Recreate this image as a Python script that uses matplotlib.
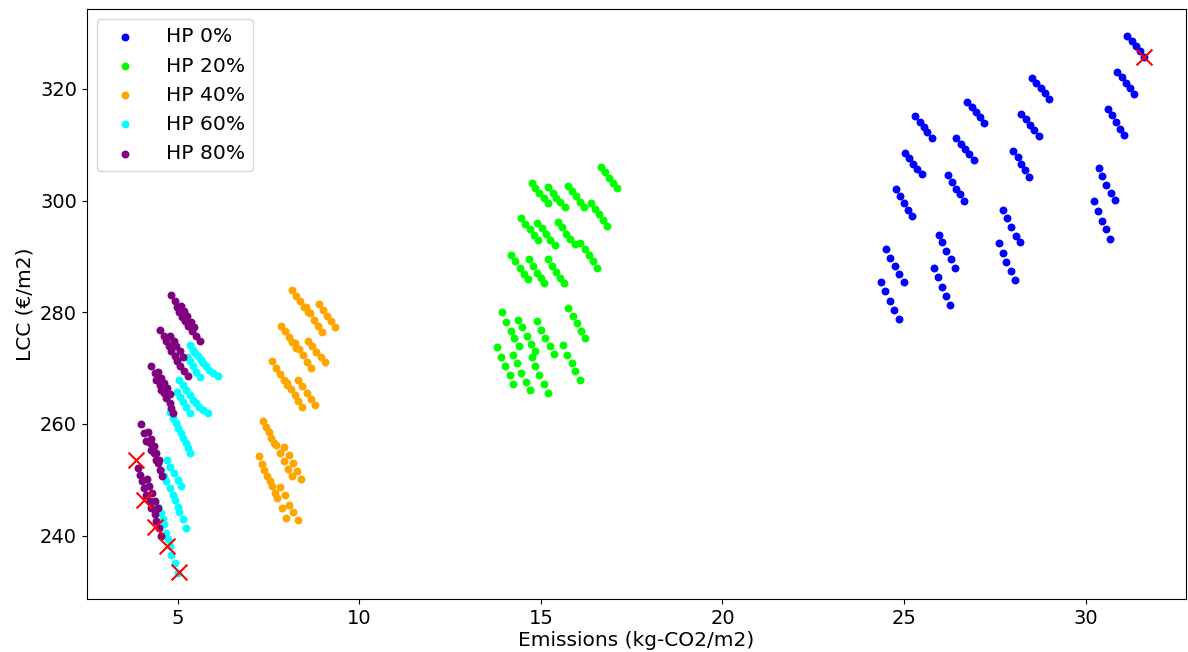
import matplotlib
matplotlib.use("Agg")
import matplotlib.pyplot as plt

# Emissions (kg-CO2/m2) and life-cycle cost (EUR/m2) per heat-pump share
hp0_emis = [
    25.30, 25.43, 25.54, 25.64, 25.77,
    25.03, 25.14, 25.25, 25.36, 25.48,
    24.77, 24.88, 24.99, 25.12, 25.22,
    24.51, 24.61, 24.75, 24.85, 24.99,
    24.37, 24.48, 24.61, 24.72, 24.85,
    26.73, 26.87, 26.98, 27.08, 27.21,
    26.44, 26.58, 26.69, 26.80, 26.92,
    26.20, 26.32, 26.42, 26.53, 26.66,
    25.95, 26.05, 26.16, 26.29, 26.39,
    25.82, 25.93, 26.03, 26.15, 26.27,
    28.52, 28.64, 28.76, 28.87, 28.98,
    28.22, 28.36, 28.47, 28.58, 28.71,
    28.01, 28.13, 28.22, 28.33, 28.44,
    27.73, 27.84, 27.94, 28.07, 28.18,
    27.60, 27.71, 27.81, 27.94, 28.05,
    31.14, 31.28, 31.38, 31.49, 31.61,
    30.85, 30.99, 31.10, 31.21, 31.33,
    30.62, 30.73, 30.83, 30.94, 31.06,
    30.36, 30.46, 30.56, 30.70, 30.80,
    30.23, 30.33, 30.44, 30.56, 30.68,
]
hp0_lcc = [
    315.2, 314.1, 313.2, 312.3, 311.2,
    308.5, 307.6, 306.6, 305.6, 304.8,
    302.0, 300.8, 299.5, 298.3, 297.3,
    291.3, 289.8, 288.2, 286.8, 285.5,
    285.5, 283.8, 282.1, 280.4, 278.8,
    317.7, 316.8, 315.8, 314.9, 313.9,
    311.2, 310.2, 309.2, 308.3, 307.3,
    304.5, 303.3, 302.1, 301.1, 299.9,
    293.9, 292.5, 291.0, 289.5, 288.0,
    288.0, 286.3, 284.6, 283.0, 281.3,
    322.0, 321.1, 320.2, 319.2, 318.2,
    315.5, 314.6, 313.6, 312.6, 311.5,
    308.9, 307.8, 306.6, 305.4, 304.2,
    298.3, 296.8, 295.2, 293.7, 292.5,
    292.4, 290.6, 289.0, 287.4, 285.7,
    329.5, 328.6, 327.7, 326.8, 325.8,
    323.1, 322.1, 321.1, 320.1, 319.1,
    316.4, 315.3, 314.0, 312.9, 311.8,
    305.9, 304.4, 302.8, 301.3, 300.1,
    299.9, 298.2, 296.4, 294.9, 293.2,
]

hp20_emis = [
    16.67, 16.77, 16.88, 17.00, 17.11,
    14.75, 14.85, 14.96, 15.08, 15.19,
    15.20, 15.33, 15.43, 15.54, 15.67,
    15.74, 15.85, 15.96, 16.09, 16.20,
    16.38, 16.49, 16.61, 16.72, 16.82,
    14.45, 14.57, 14.69, 14.81, 14.91,
    14.90, 15.02, 15.15, 15.26, 15.38,
    15.46, 15.57, 15.68, 15.80, 15.93,
    16.09, 16.22, 16.33, 16.44, 16.55,
    14.18, 14.30, 14.42, 14.54, 14.64,
    14.67, 14.78, 14.89, 15.00, 15.10,
    15.19, 15.30, 15.41, 15.52, 15.64,
    13.93, 14.04, 14.17, 14.27, 14.40,
    14.37, 14.48, 14.61, 14.72, 14.85,
    14.90, 15.00, 15.11, 15.24, 15.35,
    15.76, 15.88, 16.00, 16.11, 16.23,
    13.80, 13.90, 14.01, 14.14, 14.24,
    14.24, 14.35, 14.46, 14.58, 14.69,
    14.75, 14.84, 14.95, 15.08, 15.19,
    15.61, 15.71, 15.85, 15.95, 16.08,
]
hp20_lcc = [
    306.0, 305.1, 304.1, 303.2, 302.3,
    303.2, 302.3, 301.3, 300.4, 299.6,
    302.5, 301.4, 300.5, 299.7, 298.8,
    302.7, 301.7, 300.8, 299.7, 298.8,
    299.5, 298.5, 297.6, 296.6, 295.5,
    296.9, 295.8, 294.9, 293.9, 292.9,
    296.0, 295.1, 294.1, 293.0, 292.1,
    296.1, 295.2, 294.1, 293.2, 292.2,
    292.4, 291.3, 290.2, 289.1, 288.0,
    290.3, 289.1, 288.0, 286.9, 285.9,
    289.5, 288.2, 287.1, 286.1, 285.2,
    289.5, 288.3, 287.3, 286.2, 285.2,
    280.0, 278.3, 276.7, 275.4, 273.9,
    278.7, 277.3, 275.7, 274.4, 273.0,
    278.4, 276.9, 275.4, 274.0, 272.6,
    280.8, 279.3, 278.0, 276.6, 275.3,
    273.7, 272.0, 270.3, 268.8, 267.2,
    272.4, 270.9, 269.2, 267.5, 266.0,
    271.9, 270.4, 268.7, 267.2, 265.5,
    274.2, 272.4, 270.9, 269.4, 267.8,
]

hp40_emis = [
    8.16, 8.26, 8.37, 8.47, 8.58,
    8.53, 8.64, 8.75, 8.86, 8.97,
    8.90, 9.01, 9.12, 9.23, 9.34,
    7.86, 7.96, 8.07, 8.16, 8.27,
    8.24, 8.35, 8.46, 8.57, 8.68,
    8.60, 8.71, 8.82, 8.94, 9.05,
    7.61, 7.72, 7.83, 7.93, 8.02,
    8.02, 8.12, 8.22, 8.32, 8.42,
    8.32, 8.43, 8.55, 8.67, 8.79,
    7.35, 7.43, 7.51, 7.58, 7.65,
    7.72, 7.82, 7.92, 8.04, 8.16,
    7.92, 8.06, 8.17, 8.28, 8.41,
    7.24, 7.32, 7.39, 7.46, 7.54,
    7.60, 7.67, 7.74, 7.87, 7.98,
    7.83, 7.96, 8.08, 8.19, 8.31,
]
hp40_lcc = [
    284.0, 283.0, 282.0, 281.0, 280.0,
    281.0, 279.9, 278.7, 277.6, 276.5,
    281.4, 280.4, 279.4, 278.4, 277.4,
    277.5, 276.6, 275.6, 274.6, 273.6,
    274.5, 273.4, 272.3, 271.1, 270.0,
    274.9, 274.0, 272.9, 271.9, 271.0,
    271.2, 270.0, 268.9, 267.9, 267.0,
    267.3, 266.3, 265.2, 264.1, 263.0,
    267.9, 266.7, 265.6, 264.5, 263.4,
    260.5, 259.4, 258.5, 257.5, 256.6,
    256.2, 254.8, 253.4, 251.9, 250.6,
    255.8, 254.4, 253.0, 251.6, 250.2,
    254.2, 252.9, 251.7, 250.6, 249.7,
    248.8, 247.7, 246.7, 244.9, 243.1,
    248.7, 247.2, 245.5, 244.2, 242.7,
]

hp60_emis = [
    5.35, 5.42, 5.49, 5.56, 5.65, 5.69, 5.79, 5.86, 5.97, 6.11,
    5.25, 5.33, 5.42, 5.52, 5.62,
    5.05, 5.15, 5.24, 5.33, 5.42, 5.51, 5.60, 5.69, 5.83,
    4.98, 5.06, 5.15, 5.23, 5.33,
    4.78, 4.87, 4.96, 5.01, 5.10, 5.15, 5.24, 5.28, 5.33,
    4.55, 4.64, 4.69, 4.78, 4.87, 4.92, 5.01, 5.05, 5.15, 5.24,
    4.70, 4.80, 4.90, 5.00, 5.10,
    4.46, 4.55, 4.60, 4.64, 4.69, 4.73, 4.78, 4.83, 4.92, 5.01,
]
hp60_lcc = [
    274.2, 273.3, 272.7, 272.1, 271.5, 270.9, 270.3, 269.7, 269.1, 268.5,
    272.0, 271.2, 270.3, 269.3, 268.4,
    267.9, 267.0, 266.1, 265.2, 264.3, 263.7, 263.1, 262.5, 262.0,
    265.8, 264.9, 264.0, 263.0, 262.0,
    262.2, 261.1, 260.2, 259.3, 258.4, 257.5, 256.6, 255.7, 254.8,
    251.8, 250.6, 249.7, 248.5, 247.3, 246.4, 245.2, 244.3, 242.9, 241.4,
    253.5, 252.3, 251.2, 250.0, 248.9,
    245.2, 244.1, 242.9, 242.0, 240.5, 239.3, 238.1, 236.6, 235.1, 233.3,
]

hp80_emis = [
    4.83, 4.92, 4.98, 5.05, 5.13, 5.21, 5.30, 5.40, 5.51, 5.62,
    5.10, 5.19, 5.27, 5.36, 5.45,
    4.53, 4.62, 4.69, 4.76, 4.83, 4.92, 4.99, 5.08, 5.17, 5.28,
    4.80, 4.89, 4.97, 5.06, 5.14,
    4.26, 4.37, 4.42, 4.51, 4.55, 4.64, 4.69, 4.78, 4.83, 4.87,
    4.45, 4.54, 4.62, 4.70, 4.78,
    4.00, 4.09, 4.14, 4.25, 4.28, 4.35, 4.42, 4.46, 4.51, 4.58,
    4.20, 4.28, 4.35, 4.42, 4.50,
    3.91, 3.98, 4.03, 4.07, 4.14, 4.23, 4.28, 4.37, 4.42, 4.49, 4.55,
    4.15, 4.22, 4.30, 4.38, 4.45,
]
hp80_lcc = [
    283.1, 282.1, 281.0, 280.1, 279.2, 278.5, 277.5, 276.6, 275.7, 274.8,
    281.2, 280.2, 279.3, 278.3, 277.3,
    276.9, 275.8, 274.8, 273.9, 273.0, 272.1, 271.2, 270.3, 269.4, 268.5,
    275.8, 274.9, 274.0, 273.0, 272.0,
    270.4, 269.1, 267.9, 267.0, 266.1, 265.5, 264.6, 263.7, 262.9, 262.0,
    269.3, 268.3, 267.3, 266.4, 265.4,
    259.9, 258.3, 256.9, 256.6, 255.4, 254.8, 253.6, 253.0, 251.8, 250.6,
    258.5, 257.3, 256.0, 254.7, 253.5,
    252.1, 250.9, 249.7, 248.5, 247.3, 246.1, 245.0, 243.8, 242.6, 241.4, 239.9,
    250.2, 248.9, 247.6, 246.2, 244.9,
]

# Best-cost designs highlighted with crosses
opt_emis = [31.61, 3.87, 4.09, 4.39, 4.71, 5.03]
opt_lcc = [325.8, 253.6, 246.3, 241.6, 238.2, 233.5]

series = [
    ("HP 0%", hp0_emis, hp0_lcc, "blue"),
    ("HP 20%", hp20_emis, hp20_lcc, "lime"),
    ("HP 40%", hp40_emis, hp40_lcc, "orange"),
    ("HP 60%", hp60_emis, hp60_lcc, "cyan"),
    ("HP 80%", hp80_emis, hp80_lcc, "purple"),
]

fig = plt.figure(figsize=(11.88, 6.52), dpi=100)
ax = fig.add_axes([0.073, 0.081, 0.925, 0.905])

for label, xs, ys, color in series:
    ax.scatter(xs, ys, s=22, color=color, label=label)

ax.scatter(opt_emis, opt_lcc, s=130, marker="x", color="red", linewidths=1.5)

ax.set_xlim(2.5, 32.75)
ax.set_ylim(228.6, 334.3)
ax.set_xticks([5, 10, 15, 20, 25, 30])
ax.set_yticks([240, 260, 280, 300, 320])
ax.tick_params(labelsize=14)
ax.set_xlabel("Emissions (kg-CO2/m2)", fontsize=14.5, labelpad=2)
ax.set_ylabel("LCC (€/m2)", fontsize=14.5)
ax.legend(loc="upper left", fontsize=14.6, handletextpad=1.0)

fig.savefig("out.png", dpi=100)
